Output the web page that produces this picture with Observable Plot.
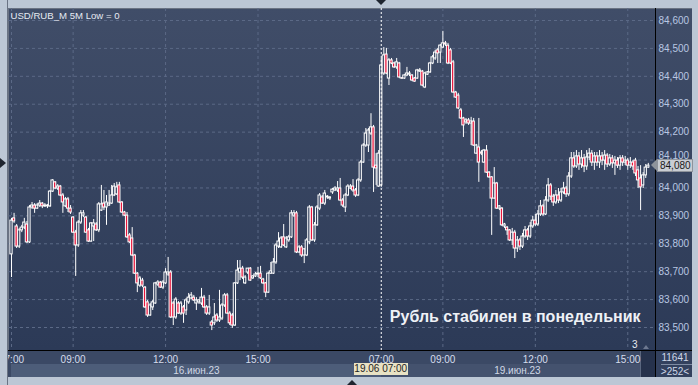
<!DOCTYPE html>
<html>
<head>
<meta charset="utf-8">
<script src="https://cdn.jsdelivr.net/npm/d3@7"></script>
<script src="https://cdn.jsdelivr.net/npm/@observablehq/plot@0.6"></script>
<style>
  html, body { margin: 0; padding: 0; background: #bcc7d5; }
  #wrap { position: relative; width: 698px; height: 385px; overflow: hidden; background: #bcc7d5; font-family: "Liberation Sans", Arial, sans-serif; }
  .abs { position: absolute; }
</style>
</head>
<body>
<div id="wrap">
  <div class="abs" style="left:8px;top:8px;width:684px;height:369px;background:linear-gradient(to bottom,#404d68 0px,#2c3a57 342px);box-shadow:inset 1px 1px 0 #6a7383;"></div>
  <div class="abs" style="left:8px;top:351px;width:647px;height:26px;background:#3b4965;"></div>
  <div class="abs" id="band1" style="top:364px;height:13px;background:#4d5d79;"></div>
  <div class="abs" id="band2" style="top:364px;height:13px;background:#44526e;"></div>
  <div class="abs" style="left:656px;top:351px;width:36px;height:26px;background:#33415e;"></div>
  <div class="abs" style="left:640px;top:351px;width:15px;height:26px;background:#26324c;border-left:1px solid #5b6880;box-sizing:border-box;"></div>
  <div id="chart" class="abs" style="left:0;top:0;"></div>
</div>
<script>
// ---- data ----
const open = [
83762,83891,83862,83790,83848,83858,83869,83805,83930,83937,
83926,83937,83944,83934,83937,83934,83987,84020,83998,84005,
83973,83934,83959,83926,83894,83840,83794,83876,83901,83894,
83848,83808,83862,83869,83848,83919,83944,83930,83937,83944,
83973,83977,84009,83948,83912,83901,83830,83819,83758,83693,
83650,83668,83643,83590,83543,83572,83586,83654,83661,83643,
83658,83690,83697,83586,83536,83586,83550,83572,83561,83590,
83604,83607,83586,83590,83586,83607,83572,83550,83518,83515,
83543,83525,83532,83579,83615,83550,83543,83507,83658,83697,
83711,83658,83697,83711,83676,83683,83690,83693,83672,83658,
83625,83693,83693,83733,83790,83787,83823,83787,83812,83823,
83901,83909,83769,83787,83758,83758,83805,83930,83812,83866,
83926,83966,83944,83966,83962,83984,83991,83991,83998,83955,
83930,83973,83998,84005,83991,83973,84027,84091,84152,84152,
84195,84217,84080,84005,
84009,84410,84478,84392,84457,84446,84432,84446,84393,84392,
84403,84406,84403,84392,84392,84417,84417,84360,84406,84414,
84446,84464,84493,84485,84503,84518,84510,84493,84450,84342,
84331,84278,84249,84235,84242,84231,84238,84123,84145,84127,
84091,84134,84055,84038,83962,84016,83926,83926,83862,83858,
83848,83812,83840,83783,83812,83790,83826,83848,83826,83862,
83883,83869,83905,83934,83905,83955,84009,83969,83948,83973,
83955,83984,83998,83977,84041,84106,84077,84113,84084,84106,
84077,84109,84123,84091,84113,84091,84113,84098,84116,84084,
84106,84088,84098,84080,84106,84091,84098,84080,84091,84098,
84063,84034,84009,84045,84073];
const high = [
83891,83909,83869,83855,83866,83891,83880,83937,83948,83944,
83944,83955,83948,83944,83941,83991,84030,84023,84012,84009,
83980,83966,83966,83937,83898,83848,83883,83919,83919,83898,
83855,83876,83887,83876,83948,84009,83991,83973,83991,84009,
84016,84020,84020,83951,83916,83912,83837,83858,83762,83697,
83683,83676,83647,83597,83586,83597,83661,83668,83665,83668,
83711,83751,83704,83593,83607,83593,83593,83579,83604,83622,
83625,83615,83607,83600,83640,83615,83579,83615,83525,83586,
83550,83633,83586,83622,83622,83557,83550,83661,83740,83740,
83719,83686,83711,83715,83686,83697,83715,83719,83676,83661,
83697,83733,83747,83801,83840,83826,83869,83826,83830,83919,
83919,83916,83794,83794,83783,83819,83937,83934,83876,83937,
83980,83973,83991,83973,83969,83998,84005,84023,84034,83962,
83980,84012,84012,84030,83998,84034,84098,84159,84213,84213,
84266,84224,84123,84134,
84464,84503,84500,84464,84464,84450,84464,84450,84396,84406,
84432,84417,84406,84396,84425,84428,84421,84414,84417,84450,
84475,84493,84500,84514,84561,84525,84518,84500,84457,84346,
84339,84285,84253,84249,84249,84253,84249,84156,84249,84134,
84138,84152,84059,84041,84073,84020,83937,83930,83873,83862,
83851,83855,83848,83826,83819,83837,83862,83855,83876,83898,
83905,83919,83955,83941,83969,84034,84016,83977,83991,83998,
83998,84020,84005,84055,84127,84127,84134,84127,84134,84120,
84134,84141,84134,84127,84127,84134,84127,84134,84123,84120,
84116,84113,84109,84116,84116,84113,84106,84109,84098,84106,
84077,84080,84055,84084,84088];
const low = [
83679,83873,83783,83783,83840,83851,83801,83801,83923,83909,
83923,83930,83926,83930,83926,83930,83984,83994,83991,83969,
83909,83930,83912,83905,83837,83683,83787,83869,83894,83837,
83805,83805,83808,83844,83840,83916,83919,83866,83934,83941,
83969,83973,83944,83909,83898,83819,83801,83754,83690,83625,
83643,83643,83568,83536,83540,83561,83583,83647,83640,83636,
83654,83683,83532,83507,83529,83547,83543,83515,83543,83583,
83600,83593,83561,83583,83579,83568,83543,83543,83489,83507,
83518,83518,83525,83572,83547,83507,83497,83504,83654,83668,
83672,83654,83690,83665,83672,83679,83679,83672,83654,83607,
83622,83690,83690,83726,83783,83783,83790,83783,83805,83819,
83894,83765,83765,83751,83729,83754,83797,83808,83805,83862,
83919,83941,83937,83959,83955,83977,83987,83984,83951,83930,
83912,83969,83994,83984,83966,83969,84020,84088,84145,84127,
84188,83984,84009,84002,
84002,84403,84406,84367,84442,84428,84425,84392,84389,84389,
84399,84399,84381,84378,84389,84414,84363,84356,84403,84410,
84442,84457,84446,84446,84500,84507,84442,84442,84339,84321,
84281,84246,84181,84228,84224,84152,84149,84120,84020,84116,
84088,84052,84034,83830,83959,83923,83919,83862,83855,83830,
83808,83794,83747,83769,83776,83783,83819,83812,83819,83855,
83862,83862,83898,83898,83901,83948,83955,83934,83941,83944,
83948,83977,83966,83969,84034,84070,84070,84063,84070,84055,
84063,84098,84077,84063,84077,84070,84080,84063,84073,84077,
84070,84045,84070,84063,84077,84080,84063,84070,84063,84041,
83998,83919,83998,84034,84070];
const close = [
83883,83880,83790,83848,83858,83876,83805,83930,83937,83926,
83937,83944,83934,83937,83934,83987,84027,83998,84005,83973,
83948,83959,83926,83912,83840,83794,83876,83909,83909,83840,
83808,83873,83873,83848,83941,83941,83930,83948,83944,83973,
84005,84002,83948,83912,83901,83823,83805,83758,83693,83658,
83676,83650,83572,83543,83579,83590,83658,83661,83643,83661,
83697,83697,83536,83536,83600,83550,83586,83550,83597,83607,
83615,83597,83597,83597,83607,83572,83550,83572,83507,83536,
83525,83536,83579,83615,83550,83515,83507,83658,83704,83711,
83679,83679,83711,83668,83683,83690,83693,83676,83658,83625,
83693,83701,83733,83794,83808,83819,83794,83819,83823,83909,
83909,83769,83787,83758,83780,83812,83930,83812,83866,83930,
83973,83944,83980,83969,83966,83994,83998,83998,83955,83937,
83973,84005,84005,83991,83973,84027,84091,84152,84195,84206,
84217,84073,84070,84123,
84439,84475,84410,84457,84446,84432,84450,84396,84392,84403,
84410,84410,84385,84381,84421,84421,84367,84410,84414,84446,
84468,84485,84482,84510,84518,84514,84446,84446,84342,84324,
84285,84249,84224,84242,84231,84238,84152,84152,84091,84123,
84134,84055,84038,83962,84016,83926,83934,83866,83869,83848,
83812,83840,83783,83812,83790,83826,83848,83826,83862,83883,
83869,83905,83934,83905,83955,84009,83969,83948,83973,83955,
83984,83998,83977,84041,84106,84077,84113,84084,84106,84077,
84109,84123,84091,84113,84091,84113,84098,84116,84084,84106,
84088,84098,84080,84106,84091,84098,84080,84091,84077,84052,
84027,84002,84045,84073,84080];

const timeTicks  = [0, 24, 60, 96, 144, 168, 204, 240];
const timeLabels = ["07:00","09:00","12:00","15:00","07:00","09:00","12:00","15:00"];
const gridTimes  = [0, 24, 60, 96, 168, 204, 240];
const dayIdx     = [72, 197];
const dayLabels  = ["16.июн.23", "19.июн.23"];
const priceTicks = [83500,83600,83700,83800,83900,84000,84100,84200,84300,84400,84500,84600];
const sessionStart = 144;
const sessionLabel = "19.06 07:00";
const lastPrice = 84080;
const titleText = "USD/RUB_M 5M Low = 0";
const captionText = "Рубль стабилен в понедельник";
const counterTop = "11641", counterBottom = ">252<", badgeText = "3";

// ---- build ----
const data = open.map((o, i) => ({i, o, h: high[i], l: low[i], c: close[i]}));
const up = data.filter(d => d.c >= d.o);
const down = data.filter(d => d.c < d.o);
const fmt = d3.format(",");
const gridColor = "#5b6986";
const hw = 0.44;

const plot = Plot.plot({
  width: 698, height: 385,
  marginLeft: 8, marginRight: 43, marginTop: 8, marginBottom: 35,
  style: {background: "transparent", fontFamily: "'Liberation Sans', Arial, sans-serif", fontSize: "10px"},
  x: {type: "linear", domain: [-1.17, 250.8], axis: null},
  y: {domain: [83417.6, 84643], axis: null},
  marks: [
    Plot.ruleY(priceTicks, {stroke: gridColor, strokeDasharray: "3,3", strokeWidth: 1}),
    Plot.ruleX(gridTimes, {stroke: gridColor, strokeDasharray: "3,3", strokeWidth: 1}),
    Plot.ruleX(data, {x: "i", y1: "l", y2: "h", stroke: "#ffffff", strokeWidth: 1}),
    Plot.rect(up, {x1: d => d.i - hw, x2: d => d.i + hw, y1: "o", y2: "c", fill: "url(#bgGrad)", stroke: "#ffffff", strokeWidth: 1}),
    Plot.rect(down, {x1: d => d.i - hw, x2: d => d.i + hw, y1: "o", y2: "c", fill: "#e8163c", stroke: "#ffffff", strokeWidth: 1}),
    Plot.ruleX([sessionStart], {stroke: "#ffffff", strokeDasharray: "2,2", strokeWidth: 1}),
    Plot.text(priceTicks.filter(d => d !== 84100), {y: d => d, text: d => fmt(d), frameAnchor: "right", dx: 3, textAnchor: "start", fill: "#b9c7e2", fontSize: 10}),
    Plot.text(priceTicks.filter(d => d === 84100), {y: d => d, text: d => fmt(d), frameAnchor: "right", dx: 3, dy: -4, textAnchor: "start", fill: "#b9c7e2", fontSize: 10}),
    Plot.text(timeTicks, {x: d => d, text: (d, i) => timeLabels[i], frameAnchor: "bottom", dy: 12, lineAnchor: "bottom", fill: "#d6dded", fontSize: 10}),
    Plot.text(dayIdx, {x: d => d, text: (d, i) => dayLabels[i], frameAnchor: "bottom", dy: 23.5, lineAnchor: "bottom", fill: "#d0d8e6", fontSize: 10}),
    Plot.text([titleText], {text: d => d, frameAnchor: "top-left", dx: 2, dy: 3.5, lineAnchor: "top", textAnchor: "start", fill: "#e6eaf2", fontSize: 9.6}),
    Plot.text([captionText], {text: d => d, frameAnchor: "bottom-right", dx: -15, dy: -29, lineAnchor: "bottom", textAnchor: "end", fill: "#eef1f6", fontSize: 16, fontWeight: "bold"})
  ]
});

const ns = "http://www.w3.org/2000/svg";
const defs = document.createElementNS(ns, "defs");
defs.innerHTML = '<linearGradient id="bgGrad" gradientUnits="userSpaceOnUse" x1="0" y1="8" x2="0" y2="350"><stop offset="0" stop-color="#404d68"/><stop offset="1" stop-color="#2c3a57"/></linearGradient>';
plot.insertBefore(defs, plot.firstChild);
document.getElementById("chart").appendChild(plot);

const xs = plot.scale("x"), ys = plot.scale("y");
const wrap = document.getElementById("wrap");
function add(html) { wrap.insertAdjacentHTML("beforeend", html); }

const sx = xs.apply(sessionStart);
const b1 = document.getElementById("band1"); b1.style.left = xs.apply(0) + "px"; b1.style.width = (sx - xs.apply(0)) + "px";
const b2 = document.getElementById("band2"); b2.style.left = sx + "px"; b2.style.width = (640 - sx) + "px";

// frame lines
add('<div class="abs" style="left:655px;top:8px;width:1px;height:369px;background:#000;"></div>');
add('<div class="abs" style="left:8px;top:350px;width:684px;height:1px;background:#000;"></div>');
// left frame strip (clips first time label)
add('<div class="abs" style="left:0;top:0;width:8px;height:385px;background:#bcc7d5;box-shadow:inset -1px 0 0 #6a7383;"></div>');
add('<div class="abs" style="left:692px;top:0;width:6px;height:385px;background:#bcc7d5;"></div>');

// session label box
add(`<div class="abs" style="left:${sx - 27}px;top:363px;width:54px;height:12px;background:#e8e2c4;color:#1e1e1e;font-size:10px;line-height:12px;text-align:center;white-space:nowrap;">${sessionLabel}</div>`);

// last price marker
const py = ys.apply(lastPrice);
add(`<div class="abs" style="left:651px;top:${py - 6}px;width:0;height:0;border-top:6px solid transparent;border-bottom:6px solid transparent;border-right:6px solid #8f949c;"></div>`);
add(`<div class="abs" style="left:657px;top:${py - 6}px;width:36px;height:13px;background:#c9cdd3;border:1px solid #8f949c;box-sizing:border-box;color:#1a1a1a;font-size:10px;line-height:11px;padding-left:2px;">${fmt(lastPrice)}</div>`);
add(`<div class="abs" style="left:0;top:${py - 7}px;width:0;height:0;border-top:5px solid transparent;border-bottom:5px solid transparent;border-left:6px solid #1f2530;"></div>`);

// top / bottom markers
add(`<div class="abs" style="left:${sx - 5}px;top:0;width:0;height:0;border-left:5px solid transparent;border-right:5px solid transparent;border-top:5px solid #1f2530;"></div>`);
add('<div class="abs" style="left:347px;top:380px;width:0;height:0;border-left:5px solid transparent;border-right:5px solid transparent;border-bottom:5px solid #1f2530;"></div>');

// badge and counters
add(`<div class="abs" style="left:632px;top:339px;color:#e6eaf2;font-size:10px;">${badgeText}</div>`);
add('<div class="abs" style="left:643px;top:345px;width:0;height:0;border-left:3px solid transparent;border-right:3px solid transparent;border-bottom:4px solid #6d7890;"></div>');
add(`<div class="abs" style="left:658px;top:352px;width:34px;text-align:center;color:#cfd8e8;font-size:10px;">${counterTop}</div>`);
add('<div class="abs" style="left:661px;top:364px;width:31px;height:1px;background:#7f8ca3;"></div>');
add(`<div class="abs" style="left:658px;top:366px;width:34px;text-align:center;color:#cfd8e8;font-size:10px;">${counterBottom}</div>`);
</script>
</body>
</html>
